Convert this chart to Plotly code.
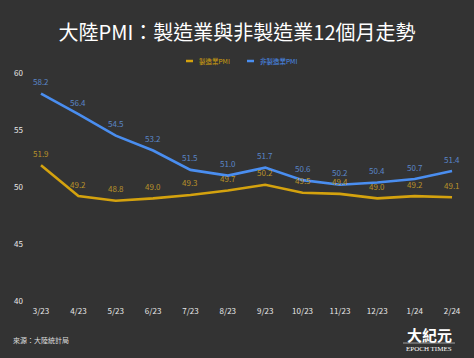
import plotly.graph_objects as go

months = ["3/23", "4/23", "5/23", "6/23", "7/23", "8/23", "9/23", "10/23", "11/23", "12/23", "1/24", "2/24"]
manufacturing = [51.9, 49.2, 48.8, 49.0, 49.3, 49.7, 50.2, 49.5, 49.4, 49.0, 49.2, 49.1]
non_manufacturing = [58.2, 56.4, 54.5, 53.2, 51.5, 51.0, 51.7, 50.6, 50.2, 50.4, 50.7, 51.4]
y_ticks = [40, 45, 50, 55, 60]
series_names = ["製造業PMI", "非製造業PMI"]

BG = "#333333"
YEL = "#d4a20e"
BLU = "#4a8ef0"
YEL_T = "#b8922a"
BLU_T = "#5a86c8"
FONT = "Noto Sans CJK TC, Noto Sans, sans-serif"

xs = list(range(len(months)))
L, T, PW, PH = 24, 73, 440, 228

def px(x):
    return (x - L) / PW

def py(y):
    return (T + PH - y) / PH

fig = go.Figure()
for vals, col, tcol, name in [(manufacturing, YEL, YEL_T, series_names[0]),
                              (non_manufacturing, BLU, BLU_T, series_names[1])]:
    fig.add_trace(go.Scatter(x=xs, y=vals, mode="lines", name=name,
                             line=dict(color=col, width=2.6), hoverinfo="skip"))
    for x, v in zip(xs, vals):
        fig.add_annotation(x=x, y=v, text="%.1f" % v, showarrow=False,
                           yshift=12, xanchor="center", yanchor="middle",
                           font=dict(color=tcol, size=8, family=FONT))

fig.update_layout(
    width=474, height=358,
    paper_bgcolor=BG, plot_bgcolor=BG,
    margin=dict(l=L, r=474 - L - PW, t=T, b=358 - T - PH),
    font=dict(family=FONT, color="#e0e0e0", size=8),
    title=dict(text="大陸PMI：製造業與非製造業12個月走勢", x=0.5, xanchor="center",
               y=1 - 33 / 358, yanchor="middle",
               font=dict(size=20, color="#ffffff", family=FONT)),
    showlegend=False,
    xaxis=dict(range=[-0.455, 11.32], tickmode="array", tickvals=xs, ticktext=months,
               showgrid=False, zeroline=False, showline=False,
               tickfont=dict(size=8, color="#e8e8e8"), ticklabelstandoff=4),
    yaxis=dict(range=[40, 60], tickmode="array", tickvals=y_ticks,
               showgrid=False, zeroline=False, showline=False,
               tickfont=dict(size=8, color="#e8e8e8")),
)

# custom legend
for (x0, col, name, tx) in [(186, YEL, series_names[0], 197), (247, BLU, series_names[1], 258)]:
    fig.add_shape(type="line", xref="paper", yref="paper",
                  x0=px(x0), x1=px(x0 + 7), y0=py(61), y1=py(61),
                  line=dict(color=col, width=2.5))
    fig.add_annotation(text=name, xref="paper", yref="paper",
                       x=px(tx), xanchor="left", y=py(61), yanchor="middle",
                       showarrow=False, font=dict(size=6.5, color=col, family=FONT))

fig.add_annotation(text="來源：大陸統計局", xref="paper", yref="paper",
                   x=px(11), xanchor="left", y=py(340), yanchor="middle",
                   showarrow=False, font=dict(size=7, color="#dddddd", family=FONT))
fig.add_annotation(text="<b>大紀元</b>", xref="paper", yref="paper",
                   x=px(429), xanchor="center", y=py(334), yanchor="middle",
                   showarrow=False, font=dict(size=15, color="#ffffff", family="Noto Sans CJK TC"))
fig.add_shape(type="line", xref="paper", yref="paper",
              x0=px(403), x1=px(455), y0=py(343), y1=py(343),
              line=dict(color="#bbbbbb", width=0.8))
fig.add_annotation(text="EPOCH TIMES", xref="paper", yref="paper",
                   x=px(429), xanchor="center", y=py(349), yanchor="middle",
                   showarrow=False, font=dict(size=7, color="#ffffff", family="Liberation Serif"))

fig.write_html("out.html", config={"displayModeBar": False},
               post_script="document.body.style.margin='0';document.body.style.overflow='hidden';")
